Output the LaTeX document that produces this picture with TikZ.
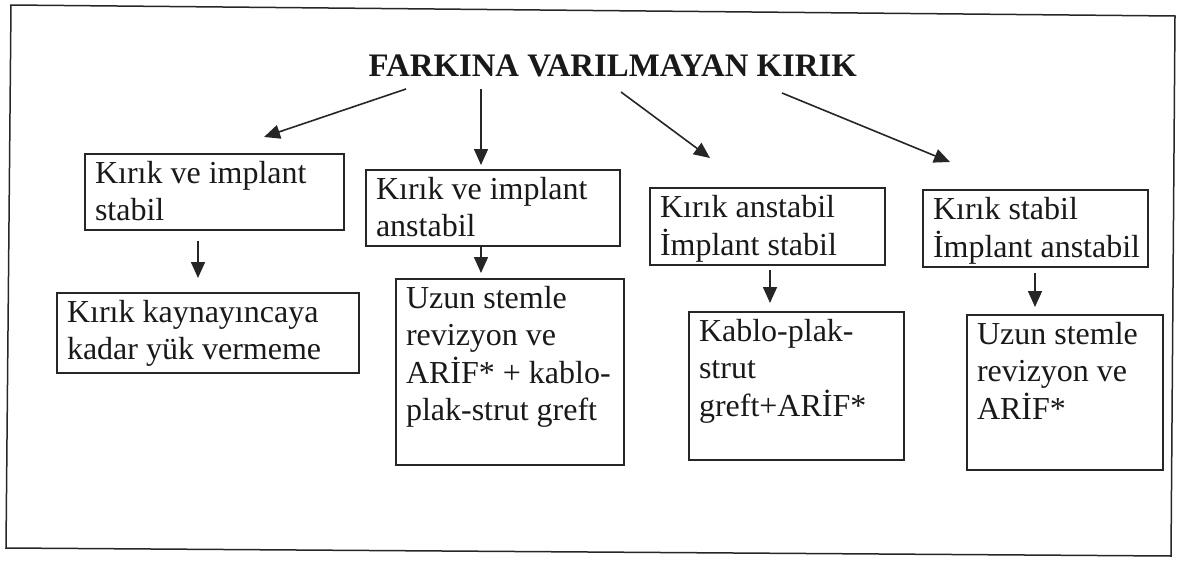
\documentclass[tikz,border=0pt]{standalone}
\usepackage{fontspec}
\setmainfont{Liberation Serif}
\usetikzlibrary{arrows.meta}
\newcommand\bxtext[3]{\parbox[c][\dimexpr#2-8pt\relax][t]{\dimexpr#1-20pt\relax}{\begin{tabular}[t]{@{}l@{}}#3\end{tabular}}}
\begin{document}
\begin{tikzpicture}[x=1pt,y=-1pt,
  every node/.style={font=\fontsize{32pt}{37pt}\selectfont, text=black!90},
  ibox/.style={draw=black!85, line width=1.4pt, inner xsep=10pt, inner ysep=4pt, anchor=north west, outer sep=0pt},
  arr/.style={draw=black!85, line width=1.6pt, -{Triangle[length=16pt,width=14pt]}},
  frame/.style={draw=black!85, line width=1.5pt}]
\useasboundingbox (0,0) rectangle (1186,562);
\draw[frame] (11,5) -- (1175,16) -- (1171,556) -- (6,548) -- cycle;

\node[font=\bfseries\fontsize{32.8pt}{38pt}\selectfont, anchor=base west] (title) at (365,76) {FARKINA VARILMAYAN KIRIK};

\node[ibox] (b1) at (85,154) {\bxtext{259pt}{76pt}{Kırık ve implant\\stabil}};
\node[ibox] (b2) at (366,170) {\bxtext{254pt}{76pt}{Kırık ve implant\\anstabil}};
\node[ibox] (b3) at (650,188) {\bxtext{235pt}{77pt}{Kırık anstabil\\İmplant stabil}};
\node[ibox] (b4) at (923,190) {\bxtext{225pt}{77pt}{Kırık stabil\\İmplant anstabil}};
\node[ibox] (b5) at (57,293) {\bxtext{302pt}{80pt}{Kırık kaynayıncaya\\kadar yük vermeme}};
\node[ibox] (b6) at (396,279) {\bxtext{228pt}{186pt}{Uzun stemle\\revizyon ve\\ARİF* + kablo-\\plak-strut greft}};
\node[ibox] (b7) at (689,312) {\bxtext{215pt}{148pt}{Kablo-plak-\\strut\\greft+ARİF*}};
\node[ibox] (b8) at (967,315) {\bxtext{196pt}{155pt}{Uzun stemle\\revizyon ve\\ARİF*}};

\coordinate (s1) at (406,89);  \coordinate (e1) at (264,137);
\coordinate (s2) at (481,89);  \coordinate (e2) at (481,165);
\coordinate (s3) at (621,92);  \coordinate (e3) at (710,158);
\coordinate (s4) at (782,93);  \coordinate (e4) at (950,162);
\draw[arr] (s1) -- (e1);
\draw[arr] (s2) -- (e2);
\draw[arr] (s3) -- (e3);
\draw[arr] (s4) -- (e4);

\coordinate (d1s) at (198,241);  \coordinate (d1e) at (198,278);
\coordinate (d2s) at (481,246);  \coordinate (d2e) at (481,273);
\coordinate (d3s) at (770,270);  \coordinate (d3e) at (770,303);
\coordinate (d4s) at (1035,273); \coordinate (d4e) at (1035,307);
\draw[arr] (d1s) -- (d1e);
\draw[arr] (d2s) -- (d2e);
\draw[arr] (d3s) -- (d3e);
\draw[arr] (d4s) -- (d4e);
\end{tikzpicture}
\end{document}
